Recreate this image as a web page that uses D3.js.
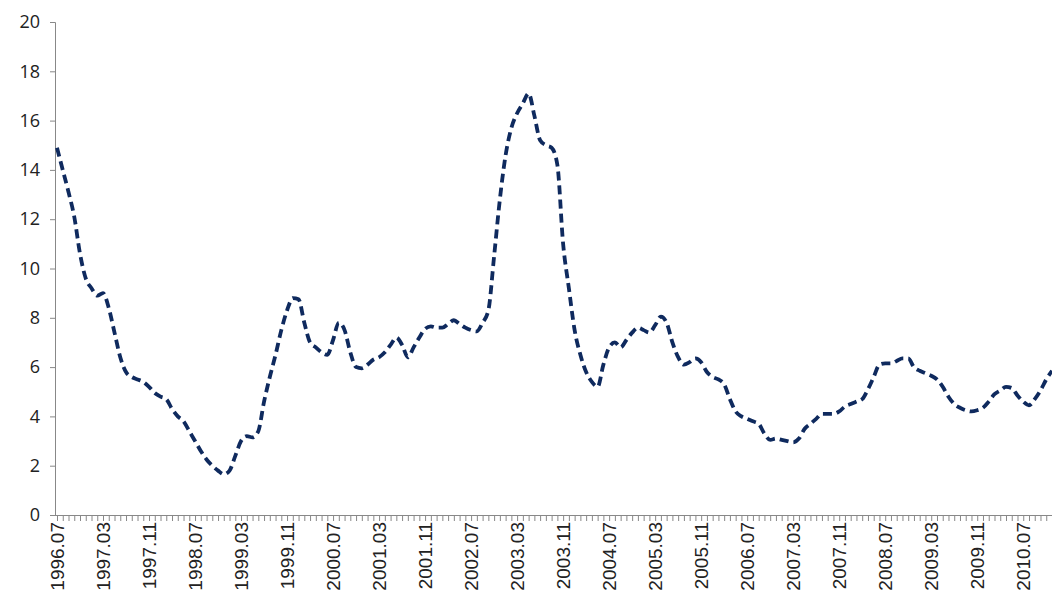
<!DOCTYPE html>
<html>
<head>
<meta charset="utf-8">
<script src="https://d3js.org/d3.v7.min.js"></script>
<style>
  body { margin: 0; background: #fff; }
  .ylab { font-family: "Open Sans", sans-serif; font-size: 18px; fill: #222; }
  .xlab { font-family: "Liberation Sans Narrow", "Liberation Sans", sans-serif; font-size: 19px; fill: #222; }
</style>
</head>
<body>
<svg width="1052" height="594"></svg>
<script>
// monthly values from 1996.07
const startYear = 1996, startMonth = 7;
const values = [
  14.9, 14.0, 13.1, 12.1, 10.6, 9.6, 9.2, 8.9, 9.0, 8.4, 7.4, 6.4, 5.8, 5.6, 5.5, 5.4,
  5.2, 4.95, 4.8, 4.7, 4.3, 4.0, 3.8, 3.4, 3.0, 2.6, 2.25, 2.0, 1.8, 1.65, 1.8, 2.4,
  3.0, 3.2, 3.15, 3.4, 4.6, 5.6, 6.5, 7.5, 8.3, 8.8, 8.75, 7.8, 7.0, 6.8, 6.6, 6.5,
  7.1, 7.8, 7.5, 6.6, 6.0, 5.95, 6.1, 6.3,
  6.4, 6.6, 6.9, 7.2, 6.9, 6.4, 6.8, 7.2, 7.55, 7.65, 7.6, 7.6, 7.75, 7.9, 7.75, 7.6,
  7.5, 7.45, 7.8, 8.3, 10.5, 12.8, 14.6, 15.7, 16.3, 16.7, 17.1, 16.2, 15.2, 15.0, 14.9, 14.2,
  11.0, 9.2, 7.5, 6.5, 5.8, 5.4, 5.2, 6.1, 6.8, 7.0, 6.8, 7.1, 7.4, 7.6, 7.5, 7.4,
  7.7, 8.05, 7.8, 7.0, 6.4, 6.1, 6.2, 6.35,
  6.2, 5.8, 5.6, 5.5, 5.3, 4.7, 4.2, 4.0, 3.9, 3.8, 3.7, 3.3, 3.05, 3.1, 3.05, 3.0,
  2.95, 3.1, 3.5, 3.7, 3.9, 4.1, 4.1, 4.1, 4.2, 4.4, 4.5, 4.6, 4.7, 5.1, 5.6, 6.1,
  6.15, 6.15, 6.25, 6.35, 6.35, 6.0, 5.85, 5.75, 5.65, 5.5, 5.2, 4.8, 4.5, 4.35, 4.25, 4.2,
  4.25, 4.35, 4.6, 4.9, 5.05, 5.2, 5.15, 4.85, 4.6, 4.45, 4.7, 5.05, 5.5, 5.85
];
const months = values.map((v, i) => {
  const m = startMonth - 1 + i;
  const yr = startYear + Math.floor(m / 12);
  return yr + "." + String(m % 12 + 1).padStart(2, "0");
});
const yTicks = [0, 2, 4, 6, 8, 10, 12, 14, 16, 18, 20];
const labelEvery = 8;

const svg = d3.select("svg");
const mLeft = 55, mRight = 1052, mTop = 22, mBottom = 515;

const x = d3.scalePoint().domain(months).range([mLeft + 2, mRight]);
const y = d3.scaleLinear().domain([0, 20]).range([mBottom, mTop]);

// y axis
const ya = svg.append("g").attr("transform", `translate(${mLeft},0)`)
  .call(d3.axisLeft(y).tickValues(yTicks).tickSize(5).tickPadding(10));
ya.select(".domain").attr("stroke", "#888");
ya.selectAll(".tick line").attr("stroke", "#888");
ya.selectAll("text").attr("class", "ylab").attr("font-size", null).attr("font-family", null);

// x axis: a tick every month, labels every 8 months
const xa = svg.append("g").attr("transform", `translate(0,${mBottom})`)
  .call(d3.axisBottom(x).tickSize(6).tickFormat((d, i) => i % labelEvery === 0 ? d : ""));
xa.select(".domain").attr("stroke", "#888").attr("d", `M${mLeft},0.5H${mRight}`);
xa.selectAll(".tick line").attr("stroke", "#888");
xa.selectAll("text")
  .attr("class", "xlab").attr("font-size", null).attr("font-family", null)
  .attr("transform", "rotate(-90)")
  .attr("text-anchor", "end")
  .attr("x", -7).attr("y", 0).attr("dy", "0.35em");

// line
const line = d3.line()
  .x((d, i) => x(months[i]))
  .y(d => y(d))
  .curve(d3.curveMonotoneX);
svg.append("path")
  .datum(values)
  .attr("d", line)
  .attr("fill", "none")
  .attr("stroke", "#0f2a5e")
  .attr("stroke-width", 3.8)
  .attr("stroke-dasharray", "9,5");
</script>
</body>
</html>
